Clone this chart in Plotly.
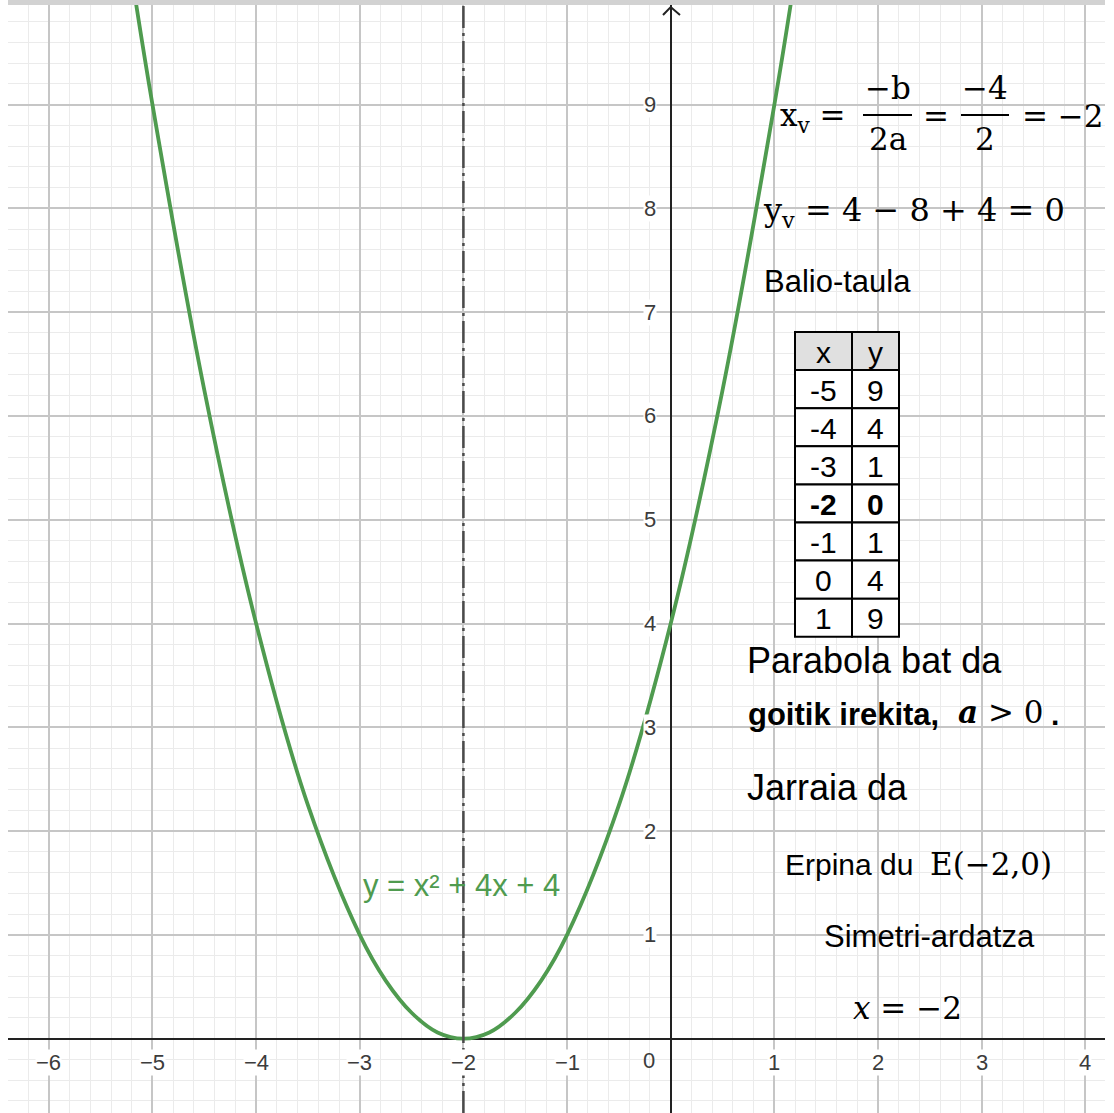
import plotly.graph_objects as go

# points of the parabola y = x² + 4x + 4
curve_x = [-5.2, -5, -4.5, -4, -3.5, -3, -2.75, -2.5, -2.25, -2, -1.75, -1.5, -1.25, -1, -0.5, 0, 0.5, 1, 1.2]
curve_y = [10.24, 9, 6.25, 4, 2.25, 1, 0.56, 0.25, 0.06, 0, 0.06, 0.25, 0.56, 1, 2.25, 4, 6.25, 9, 10.24]

# Balio-taula
table_head = ['x', 'y']
table_x = [-5, -4, -3, -2, -1, 0, 1]
table_y = [9, 4, 1, 0, 1, 4, 9]
vertex_x = -2

# axis numbers
x_ticks = [-6, -5, -4, -3, -2, -1, 1, 2, 3, 4]
y_ticks = [1, 2, 3, 4, 5, 6, 7, 8, 9]

# ---------------------------------------------------------

W, H = 1114, 1113
M = dict(l=8, r=9, t=5, b=0)
X_RANGE = [-6.394, 4.19]
Y_RANGE = [-0.716, 9.96]
PW = W - M['l'] - M['r']
PH = H - M['t'] - M['b']

SANS = 'Liberation Sans, Arial, sans-serif'
SERIF = 'DejaVu Serif, serif'
GREEN = '#4f9b4f'
LABEL = '#3c3c3c'


def px_x(p):  # pixel column -> x value
    return X_RANGE[0] + (p - M['l']) / PW * (X_RANGE[1] - X_RANGE[0])


def px_y(p):  # pixel row -> y value
    return Y_RANGE[1] - (p - M['t']) / PH * (Y_RANGE[1] - Y_RANGE[0])


def paper_y(p):
    return 1 - (p - M['t']) / PH


def minus(v):
    return str(v).replace('-', '\u2212')


fig = go.Figure()

fig.add_trace(go.Scatter(x=curve_x, y=curve_y, mode='lines', line=dict(color=GREEN, width=3.8, shape='spline'),
                         hoverinfo='skip', showlegend=False))

# axis of symmetry
fig.add_shape(type='line', x0=vertex_x, x1=vertex_x, y0=0, y1=1, yref='paper',
              line=dict(color='#4a4a4a', width=2.5, dash='22px,5px,3px,5px'))

# arrow on the y axis
fig.add_shape(type='path', path=f'M {px_x(663)} {px_y(15)} L 0 {px_y(7)} L {px_x(680)} {px_y(15)}',
              line=dict(color='#222222', width=2))

# shadow strip at the top
fig.add_shape(type='rect', xref='paper', yref='paper', x0=0, x1=1, y0=1, y1=paper_y(0),
              fillcolor='#d2d2d2', line=dict(width=0))

ann = []

# value table: header row + one row per (x, y) pair
ROW_H = 38.1
TABLE_TOP = 332
COLS = [(795, 852), (852, 899)]
rows = [table_head] + [[str(x), str(y)] for x, y in zip(table_x, table_y)]
for i, row in enumerate(rows):
    top = TABLE_TOP + i * ROW_H
    bold = i > 0 and table_x[i - 1] == vertex_x
    for (a, b), txt in zip(COLS, row):
        fig.add_shape(type='rect', x0=px_x(a), x1=px_x(b), y0=px_y(top + ROW_H), y1=px_y(top),
                      fillcolor='#e0e0e0' if i == 0 else 'white', line=dict(color='black', width=2))
        ann.append(dict(x=px_x((a + b) / 2), y=px_y(top + ROW_H / 2 + 1), text=f'<b>{txt}</b>' if bold else txt,
                        showarrow=False, font=dict(family=SANS, size=30, color='black')))

for v in x_ticks:
    ann.append(dict(x=v, y=px_y(1062), text=minus(v), showarrow=False, bgcolor='white', borderpad=0,
                    font=dict(family=SANS, size=22, color=LABEL)))
for v in y_ticks:
    ann.append(dict(x=px_x(657), y=v, text=str(v), showarrow=False, xanchor='right', bgcolor='white',
                    borderpad=0, font=dict(family=SANS, size=22, color=LABEL)))
ann.append(dict(x=px_x(657), y=px_y(1060), text='0', showarrow=False, xanchor='right',
                font=dict(family=SANS, size=22, color=LABEL)))

ann.append(dict(x=px_x(461), y=px_y(885), text='y = x² + 4x + 4', showarrow=False,
                font=dict(family=SANS, size=31, color=GREEN)))


def math(text, x, y, anchor='center', size=31):
    ann.append(dict(x=px_x(x), y=px_y(y), text=text, showarrow=False, xanchor=anchor,
                    font=dict(family=SERIF, size=size, color='black')))


def sans(text, x, y, size=31):
    ann.append(dict(x=px_x(x), y=px_y(y), text=text, showarrow=False, xanchor='left',
                    font=dict(family=SANS, size=size, color='black')))


# x_v = -b/2a = -4/2 = -2
math('x<sub>v</sub> =', 778, 117, anchor='left')
math('\u2212b', 888, 88)
math('2a', 888, 139)
math('=', 936, 116)
math('\u22124', 985, 88)
math('2', 985, 139)
math('= \u22122', 1020, 116, anchor='left')
for a, b in [(863, 912), (961, 1009)]:
    fig.add_shape(type='line', x0=px_x(a), x1=px_x(b), y0=px_y(115), y1=px_y(115),
                  line=dict(color='black', width=2))

math('y<sub>v</sub> = 4 \u2212 8 + 4 = 0', 761, 212, anchor='left', size=32)
sans('Balio-taula', 762, 281, 31)
sans('Parabola bat da', 745, 660, 36)
sans('<b>goitik irekita,</b>', 746, 714, 31)
math('<b><i>a</i></b> > 0', 956, 712, anchor='left')
sans('<b>.</b>', 1049, 714, 30)
sans('Jarraia da', 745, 787, 36)
sans('Erpina du', 783, 864, 30)
math('E(\u22122,0)', 928, 864, anchor='left')
sans('Simetri-ardatza', 822, 936, 31)
math('<i>x</i> = \u22122', 851, 1008, anchor='left')

fig.update_layout(
    width=W, height=H,
    margin=dict(l=M['l'], r=M['r'], t=M['t'], b=M['b'], pad=0),
    paper_bgcolor='white', plot_bgcolor='white',
    showlegend=False,
    annotations=ann,
    xaxis=dict(range=X_RANGE, dtick=1, tick0=0, showgrid=True, gridcolor='#c6c6c6', gridwidth=1.5,
               minor=dict(dtick=0.2, tick0=0, showgrid=True, gridcolor='#ebebeb', gridwidth=1),
               showticklabels=False, ticks='', zeroline=True, zerolinecolor='#222222', zerolinewidth=2,
               fixedrange=True),
    yaxis=dict(range=Y_RANGE, dtick=1, tick0=0, showgrid=True, gridcolor='#c6c6c6', gridwidth=1.5,
               minor=dict(dtick=0.2, tick0=0, showgrid=True, gridcolor='#ebebeb', gridwidth=1),
               showticklabels=False, ticks='', zeroline=True, zerolinecolor='#222222', zerolinewidth=2,
               fixedrange=True),
)

fig.write_html("out.html", config=dict(displayModeBar=False),
               post_script="document.body.style.margin='0';document.body.style.overflow='hidden';")
